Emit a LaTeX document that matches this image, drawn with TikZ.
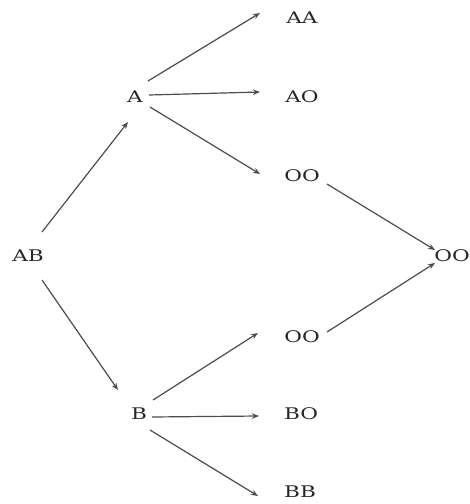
\documentclass[tikz,border=0pt]{standalone}
\usepackage{fontspec}
\setmainfont{DejaVu Serif}
\usetikzlibrary{arrows.meta}
\begin{document}
\begin{tikzpicture}[x=1pt,y=-1pt,
  lbl/.style={inner sep=0pt, text=black!85, font=\fontsize{16}{18}\selectfont},
  arr/.style={draw=black!70, line width=1.2pt, -{Stealth[length=7pt,width=5.5pt]}}]
\useasboundingbox (0,0) rectangle (470,504);
\newcommand\wtxt[1]{\scalebox{1.35}[1]{#1}}
\node[lbl] (AB) at (28,256) {\wtxt{AB}};
\node[lbl] (A) at (135,97) {\wtxt{A}};
\node[lbl] (B) at (139,414) {\wtxt{B}};
\node[lbl] (AA) at (302,18) {\wtxt{AA}};
\node[lbl] (AO) at (302,97) {\wtxt{AO}};
\node[lbl] (OOa) at (302,176) {\wtxt{OO}};
\node[lbl] (OOr) at (452,256) {\wtxt{OO}};
\node[lbl] (OOb) at (302,337) {\wtxt{OO}};
\node[lbl] (BO) at (301,414) {\wtxt{BO}};
\node[lbl] (BB) at (300,492) {\wtxt{BB}};
\draw[arr] ([shift={(14,-24)}]AB.center) -- ([shift={(-7,25)}]A.center);
\draw[arr] ([shift={(14,24)}]AB.center) -- ([shift={(-21,-24)}]B.center);
\draw[arr] ([shift={(13,-16)}]A.center) -- ([shift={(-42,-5)}]AA.center);
\draw[arr] ([shift={(14,-2)}]A.center) -- ([shift={(-42,-5)}]AO.center);
\draw[arr] ([shift={(15,10)}]A.center) -- ([shift={(-42,-2)}]OOa.center);
\draw[arr] ([shift={(25,8)}]OOa.center) -- ([shift={(-17,-6)}]OOr.center);
\draw[arr] ([shift={(25,-5)}]OOb.center) -- ([shift={(-17,7)}]OOr.center);
\draw[arr] ([shift={(14,-14)}]B.center) -- ([shift={(-44,-4)}]OOb.center);
\draw[arr] ([shift={(13,3)}]B.center) -- ([shift={(-42,2)}]BO.center);
\draw[arr] ([shift={(11,16)}]B.center) -- ([shift={(-42,4)}]BB.center);
\end{tikzpicture}
\end{document}
